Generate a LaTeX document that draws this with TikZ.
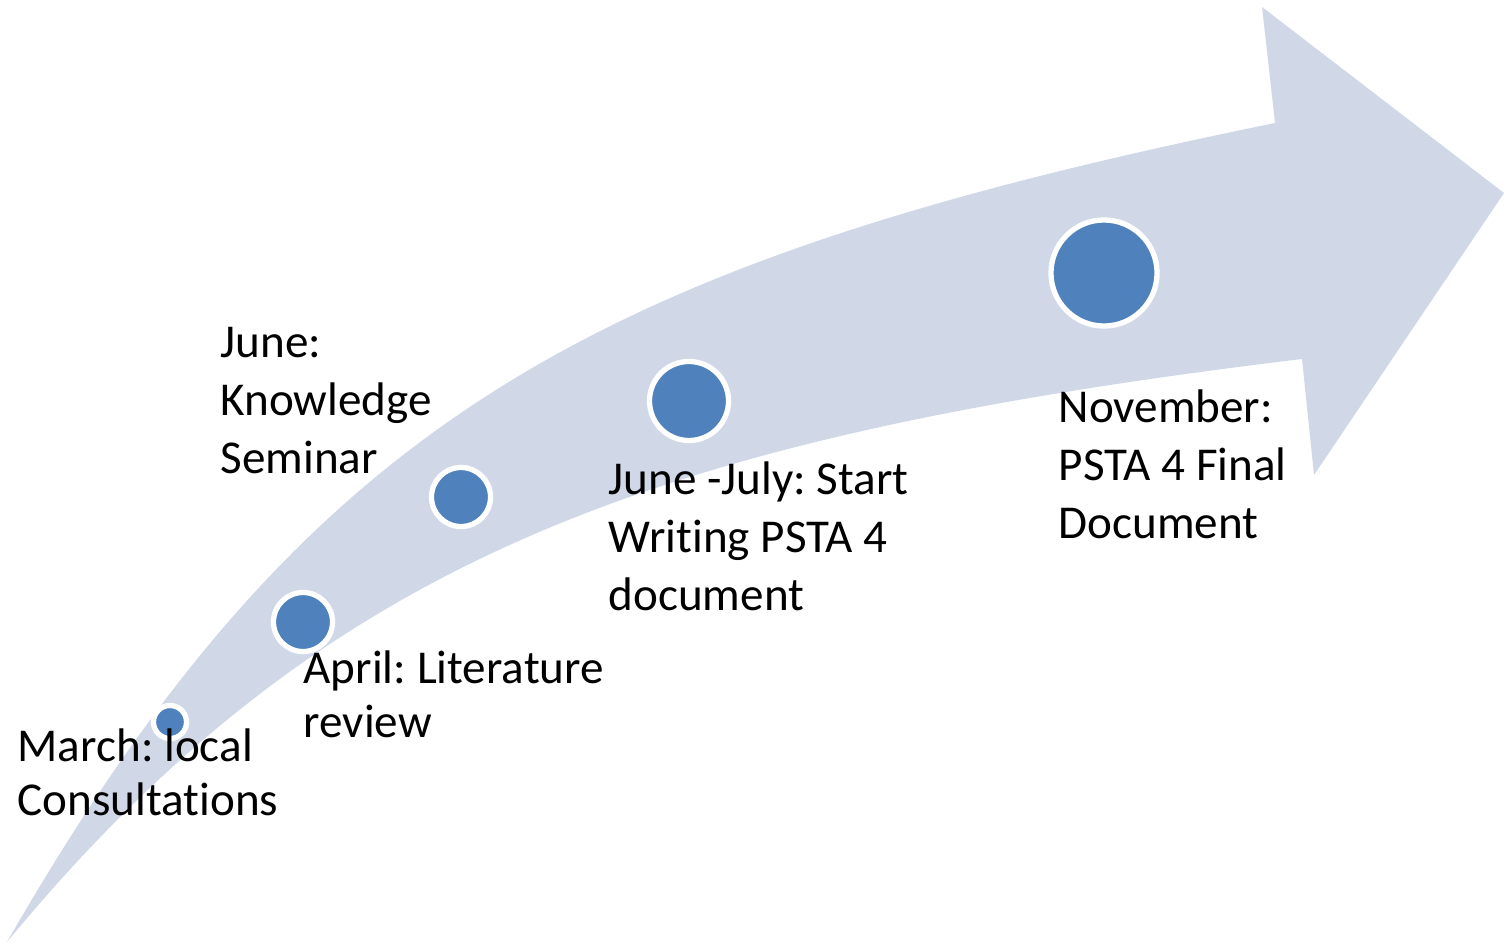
\documentclass[tikz,border=0pt]{standalone}
\usepackage{fontspec}
\setmainfont[Ligatures={NoCommon}]{Carlito}
\frenchspacing
\usepackage{tikz}
\usetikzlibrary{shapes}
\definecolor{bandblue}{RGB}{208,216,232}
\definecolor{dotblue}{RGB}{79,129,189}
\tikzset{
	dot/.style={circle, fill=dotblue, draw=white, line width=1.5pt, inner sep=0pt}
}
% base anchor sits on the last line
\tikzstyle{stage}=[anchor=base west, align=left, inner sep=0pt, font=\fontsize{13.4}{16.4}\selectfont]
\tikzstyle{tightstage}=[stage, font=\fontsize{13.4}{15.1}\selectfont]

\begin{document}
\begin{tikzpicture}[x=.01cm, y=-.01cm]
	\useasboundingbox (0,0) rectangle (1504,943);
	% curved band with its head
	\fill[bandblue] (7,942) .. controls (306,422) and (589,263) .. (1275,123)
		-- (1262,7) -- (1504,193) -- (1314,475) -- (1302,359)
		.. controls (657,437) and (326,556) .. (7,942) -- cycle;
	\node[dot, minimum size=.33cm] (march) at (170,722) {};
	\node[dot, minimum size=.59cm] (april) at (303,622) {};
	\node[dot, minimum size=.59cm] (june) at (461,497) {};
	\node[dot, minimum size=.79cm] (july) at (689,401) {};
	\node[dot, minimum size=1.06cm] (november) at (1104,273) {};
	\node[tightstage] (marchtext) at (17,815) {March: local\\Consultations};
	\node[tightstage] (apriltext) at (303,737) {April: Literature\\review};
	\node[stage] (junetext) at (220,473) {June:\\Knowledge\\Seminar};
	\node[stage] (julytext) at (608,610) {June -July: Start\\Writing PSTA 4\\document};
	\node[stage] (novembertext) at (1058,538) {November:\\PSTA 4 Final\\Document};
\end{tikzpicture}
\end{document}
